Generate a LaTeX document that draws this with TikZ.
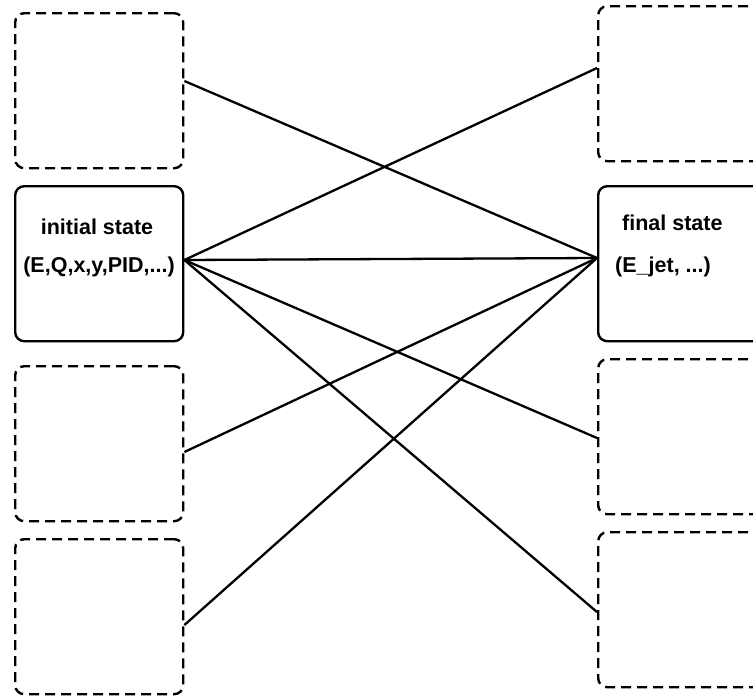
\documentclass[tikz,border=0pt]{standalone}
\usepackage{fontspec}
\setmainfont{Liberation Sans}
\begin{document}
\begin{tikzpicture}[x=1pt,y=-1pt,
  box/.style={draw,line width=2.4pt,rounded corners=9pt,inner sep=0pt,anchor=north west,
              minimum width=#1pt,minimum height=155pt},
  dbox/.style={box=#1,dash pattern=on 10pt off 6pt},
  lbl/.style={font=\bfseries\fontsize{21.5}{25}\selectfont,inner sep=0pt},
  conn/.style={line width=2.3pt}]
\useasboundingbox (0,0) rectangle (753,696);
\path[fill=white] (0,0) rectangle (753,696);
% left boxes
\node[dbox=168] (L1) at (14,12) {};
\node[box=168]  (L2) at (14,185) {};
\node[dbox=168] (L3) at (14,365) {};
\node[dbox=168] (L4) at (14,538) {};
% right boxes
\node[dbox=175] (R1) at (597,5) {};
\node[box=175]  (R2) at (597,185) {};
\node[dbox=175] (R3) at (597,358) {};
\node[dbox=175] (R4) at (597,531) {};
% labels
\node[lbl] (t1) at (97,227) {initial state};
\node[lbl] (t2) at (99,267) {(E,Q,x,y,PID,...)};
\node[lbl,anchor=west] (t3) at (622,223) {final state};
\node[lbl,anchor=west] (t4) at (615,267) {(E\_jet, ...)};
% connection points
\coordinate (a1) at (L1.east |- 0,81);
\coordinate (a2) at (L2.east |- 0,260);
\coordinate (a3) at (L3.east |- 0,452);
\coordinate (a4) at (L4.east |- 0,625);
\coordinate (b1) at (R1.west |- 0,68);
\coordinate (b2) at (R2.west |- 0,258);
\coordinate (b3) at (R3.west |- 0,438);
\coordinate (b4) at (R4.west |- 0,612);
% connectors
\draw[conn] (a1) -- (b2);
\draw[conn] (a2) -- (b1);
\draw[conn] (a2) -- (b2);
\draw[conn] (a2) -- (b3);
\draw[conn] (a2) -- (b4);
\draw[conn] (a3) -- (b2);
\draw[conn] (a4) -- (b2);
\end{tikzpicture}
\end{document}
